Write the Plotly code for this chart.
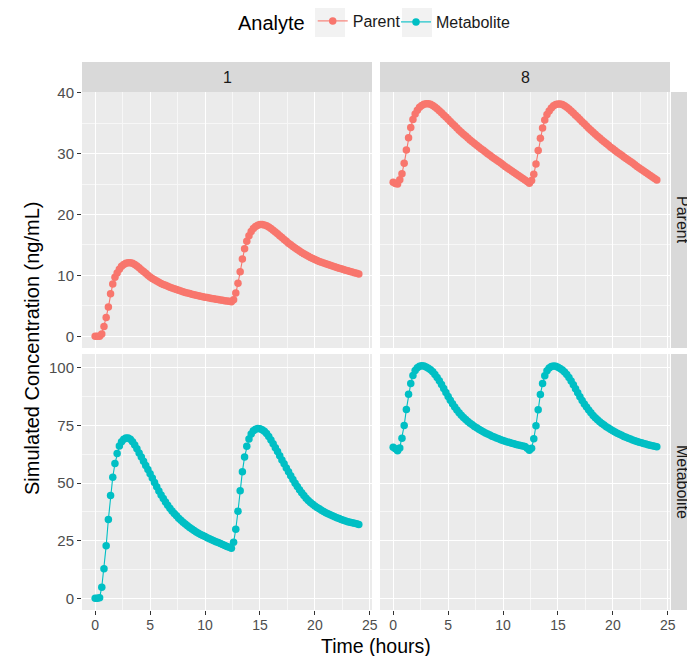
import plotly.graph_objects as go

# ---------------- data ----------------
time_h = [
    0.0, 0.2, 0.4, 0.6, 0.8, 1.0, 1.2, 1.4, 1.6, 1.8,
    2.0, 2.2, 2.4, 2.6, 2.8, 3.0, 3.2, 3.4, 3.6, 3.8,
    4.0, 4.2, 4.4, 4.6, 4.8, 5.0, 5.2, 5.4, 5.6, 5.8,
    6.0, 6.2, 6.4, 6.6, 6.8, 7.0, 7.2, 7.4, 7.6, 7.8,
    8.0, 8.2, 8.4, 8.6, 8.8, 9.0, 9.2, 9.4, 9.6, 9.8,
    10.0, 10.2, 10.4, 10.6, 10.8, 11.0, 11.2, 11.4, 11.6, 11.8,
    12.0, 12.2, 12.4, 12.6, 12.8, 13.0, 13.2, 13.4, 13.6, 13.8,
    14.0, 14.2, 14.4, 14.6, 14.8, 15.0, 15.2, 15.4, 15.6, 15.8,
    16.0, 16.2, 16.4, 16.6, 16.8, 17.0, 17.2, 17.4, 17.6, 17.8,
    18.0, 18.2, 18.4, 18.6, 18.8, 19.0, 19.2, 19.4, 19.6, 19.8,
    20.0, 20.2, 20.4, 20.6, 20.8, 21.0, 21.2, 21.4, 21.6, 21.8,
    22.0, 22.2, 22.4, 22.6, 22.8, 23.0, 23.2, 23.4, 23.6, 23.8,
    24.0,
]

parent_day1 = [
    0, 0, 0, 0.4, 1.6, 3.1, 4.8, 7.0, 8.6, 9.7,
    10.4, 11.0, 11.5, 11.8, 12.0, 12.1, 12.1, 12.0, 11.8, 11.55,
    11.25, 10.95, 10.65, 10.35, 10.05, 9.75, 9.5, 9.28, 9.07, 8.87,
    8.68, 8.52, 8.37, 8.22, 8.08, 7.94, 7.8, 7.68, 7.56, 7.44,
    7.33, 7.22, 7.12, 7.02, 6.92, 6.83, 6.74, 6.66, 6.58, 6.5,
    6.43, 6.36, 6.29, 6.22, 6.16, 6.1, 6.04, 5.98, 5.92, 5.86,
    5.8, 5.75, 5.7, 6.0, 7.1, 8.7, 10.6, 12.7, 14.4, 15.6,
    16.5, 17.2, 17.7, 18.05, 18.25, 18.35, 18.35, 18.28, 18.14, 17.95,
    17.7, 17.42, 17.13, 16.83, 16.52, 16.21, 15.9, 15.6, 15.3, 15.02,
    14.75, 14.49, 14.24, 14.0, 13.77, 13.55, 13.34, 13.14, 12.95, 12.77,
    12.6, 12.45, 12.3, 12.16, 12.03, 11.9, 11.78, 11.66, 11.54, 11.42,
    11.3, 11.19, 11.08, 10.97, 10.86, 10.75, 10.65, 10.55, 10.45, 10.35,
    10.25,
]

parent_day8 = [
    25.3, 25.1, 25.0, 25.7, 26.7, 28.4, 30.6, 32.6, 34.3, 35.6,
    36.5, 37.1, 37.6, 37.9, 38.1, 38.2, 38.2, 38.1, 37.9, 37.65,
    37.35, 37.05, 36.7, 36.35, 36.0, 35.65, 35.28, 34.91, 34.55, 34.2,
    33.85, 33.52, 33.19, 32.87, 32.56, 32.25, 31.95, 31.66, 31.37, 31.08,
    30.8, 30.53, 30.26, 29.99, 29.72, 29.46, 29.2, 28.95, 28.7, 28.45,
    28.15, 27.9, 27.65, 27.4, 27.15, 26.9, 26.65, 26.4, 26.15, 25.9,
    25.65, 25.4, 25.15, 25.6, 26.6, 28.3, 30.5, 32.5, 34.2, 35.5,
    36.4, 37.0, 37.5, 37.85, 38.05, 38.15, 38.15, 38.05, 37.85, 37.6,
    37.3, 37.0, 36.65, 36.3, 35.95, 35.6, 35.24, 34.88, 34.52, 34.17,
    33.83, 33.5, 33.17, 32.85, 32.54, 32.23, 31.93, 31.64, 31.35, 31.06,
    30.78, 30.51, 30.24, 29.97, 29.71, 29.45, 29.19, 28.94, 28.69, 28.44,
    28.15, 27.9, 27.65, 27.4, 27.15, 26.9, 26.65, 26.4, 26.15, 25.9,
    25.65,
]

metabolite_day1 = [
    0, 0, 0.3, 4.85, 12.9, 22.8, 34.2, 44.6, 52.6, 58.5,
    62.9, 66.1, 68.0, 69.1, 69.6, 69.6, 69.1, 68.0, 66.6, 64.9,
    63.1, 61.3, 59.5, 57.7, 55.9, 54.1, 52.2, 50.3, 48.4, 46.6,
    44.9, 43.3, 41.8, 40.4, 39.1, 37.9, 36.8, 35.8, 34.8, 33.9,
    33.05, 32.25, 31.5, 30.75, 30.05, 29.4, 28.8, 28.25, 27.75, 27.27,
    26.8, 26.35, 25.9, 25.47, 25.04, 24.62, 24.2, 23.78, 23.37, 22.96,
    22.55, 22.15, 21.75, 24.3, 30.0, 37.8, 46.7, 55.0, 61.4, 66.0,
    69.2, 71.3, 72.7, 73.4, 73.7, 73.6, 73.2, 72.5, 71.5, 70.2,
    68.7, 67.1, 65.4, 63.7, 61.9, 60.1, 58.4, 56.6, 54.9, 53.2,
    51.6, 50.0, 48.5, 47.1, 45.8, 44.6, 43.5, 42.5, 41.6, 40.8,
    40.1, 39.45, 38.85, 38.27, 37.7, 37.2, 36.75, 36.3, 35.85, 35.42,
    35.0, 34.62, 34.26, 33.92, 33.6, 33.3, 33.05, 32.8, 32.56, 32.33,
    32.1,
]

metabolite_day8 = [
    65.6, 64.9, 64.1, 65.3, 69.5, 75.0, 82.0, 88.6, 93.3, 96.7,
    98.9, 100.1, 100.7, 100.9, 100.8, 100.4, 99.9, 99.2, 98.3, 97.2,
    95.9, 94.4, 92.8, 91.1, 89.3, 87.6, 86.0, 84.5, 83.1, 81.8,
    80.6, 79.5, 78.5, 77.6, 76.8, 76.0, 75.3, 74.6, 74.0, 73.4,
    72.85, 72.3, 71.8, 71.3, 70.85, 70.4, 70.0, 69.6, 69.22, 68.86,
    68.52, 68.2, 67.9, 67.6, 67.32, 67.05, 66.8, 66.55, 66.32, 66.1,
    65.88, 65.2, 64.3, 65.2, 69.3, 74.9, 81.9, 88.5, 93.2, 96.6,
    98.8, 100.0, 100.6, 100.8, 100.7, 100.3, 99.8, 99.1, 98.2, 97.1,
    95.8, 94.3, 92.7, 91.0, 89.2, 87.5, 85.9, 84.4, 83.0, 81.7,
    80.5, 79.4, 78.4, 77.5, 76.7, 75.9, 75.2, 74.5, 73.9, 73.3,
    72.75, 72.2, 71.7, 71.2, 70.75, 70.3, 69.9, 69.5, 69.12, 68.76,
    68.42, 68.1, 67.8, 67.5, 67.22, 66.95, 66.7, 66.45, 66.22, 66.0,
    65.78,
]

day_labels = ["1", "8"]
analyte_labels = ["Parent", "Metabolite"]
x_tick_vals = [0, 5, 10, 15, 20, 25]
y_tick_vals_parent = [0, 10, 20, 30, 40]
y_tick_vals_metabolite = [0, 25, 50, 75, 100]

# ---------------- styling / layout geometry ----------------
# The page body has an 8px default margin, so the figure is 8px smaller
# than the window and every reference (screen) pixel maps to figure px - 8.
OFF = 8
W, H = 695 - OFF, 656 - OFF
ML, MR, MT, MB = 82 - OFF, 25, 62 - OFF, 46
PW, PH = W - ML - MR, H - MT - MB
FONT = "Liberation Sans, Arial, sans-serif"
COLORS = {"Parent": "#F8766D", "Metabolite": "#00BFC4"}


def fx(px):  # screen x -> paper
    return (px - OFF - ML) / PW


def fy(py):  # screen y -> paper
    return (H - MB - (py - OFF)) / PH


col_px = [(82, 372), (380, 670)]
row_px = [(92, 348), (354, 610)]
strip_top = (62, 92)
strip_right = (671, 700)

series = {
    ("Parent", 0): parent_day1,
    ("Parent", 1): parent_day8,
    ("Metabolite", 0): metabolite_day1,
    ("Metabolite", 1): metabolite_day8,
}
y_ranges = [[-1.91, 40.11], [-5.05, 106.05]]
y_ticks = [y_tick_vals_parent, y_tick_vals_metabolite]
legend_ids = {"Parent": "legend", "Metabolite": "legend2"}

fig = go.Figure()
layout_axes = {}
for r, analyte in enumerate(analyte_labels):
    for c in range(2):
        idx = r * 2 + c + 1
        sfx = "" if idx == 1 else str(idx)
        fig.add_trace(go.Scatter(
            x=time_h, y=series[(analyte, c)],
            mode="lines+markers",
            name=analyte, legendgroup=analyte,
            legend=legend_ids[analyte],
            showlegend=(c == 0),
            line=dict(color=COLORS[analyte], width=1.1),
            marker=dict(color=COLORS[analyte], size=7.5),
            xaxis="x" + sfx, yaxis="y" + sfx,
        ))
        bottom = (r == 1)
        left = (c == 0)
        layout_axes["xaxis" + sfx] = dict(
            domain=[fx(col_px[c][0]), fx(col_px[c][1])],
            range=[-1.2, 25.2], anchor="y" + sfx,
            tickvals=x_tick_vals, showticklabels=bottom,
            ticks="outside" if bottom else "", ticklen=4, tickwidth=1.1,
            tickcolor="#333333", ticklabelstandoff=-2,
            tickfont=dict(family=FONT, size=14, color="#4D4D4D"),
            showgrid=True, gridcolor="white", gridwidth=1.1,
            minor=dict(dtick=2.5, tick0=0, showgrid=True, gridcolor="#F7F7F7", gridwidth=0.6),
            zeroline=False, showline=False, fixedrange=True,
        )
        layout_axes["yaxis" + sfx] = dict(
            domain=[fy(row_px[r][1]), fy(row_px[r][0])],
            range=y_ranges[r], anchor="x" + sfx,
            tickvals=y_ticks[r], showticklabels=left,
            ticks="outside" if left else "", ticklen=4, tickwidth=1.1,
            tickcolor="#333333",
            tickfont=dict(family=FONT, size=15, color="#4D4D4D"),
            showgrid=True, gridcolor="white", gridwidth=1.1,
            minor=dict(dtick=(y_ticks[r][1] - y_ticks[r][0]) / 2, tick0=0,
                       showgrid=True, gridcolor="#F7F7F7", gridwidth=0.6),
            zeroline=False, showline=False, fixedrange=True,
        )

shapes = []
annotations = []
for c, lab in enumerate(day_labels):
    shapes.append(dict(type="rect", xref="paper", yref="paper",
                       x0=fx(col_px[c][0]), x1=fx(col_px[c][1]),
                       y0=fy(strip_top[1]), y1=fy(strip_top[0]),
                       fillcolor="#D9D9D9", line=dict(width=0), layer="below"))
    annotations.append(dict(text=lab, xref="paper", yref="paper",
                            x=fx((col_px[c][0] + col_px[c][1]) / 2),
                            y=fy((strip_top[0] + strip_top[1]) / 2),
                            showarrow=False, xanchor="center", yanchor="middle",
                            font=dict(family=FONT, size=16, color="#1A1A1A")))
for r, lab in enumerate(analyte_labels):
    shapes.append(dict(type="rect", xref="paper", yref="paper",
                       x0=fx(strip_right[0]), x1=fx(strip_right[1]),
                       y0=fy(row_px[r][1]), y1=fy(row_px[r][0]),
                       fillcolor="#D9D9D9", line=dict(width=0), layer="below"))
    annotations.append(dict(text=lab, xref="paper", yref="paper",
                            x=fx(683), y=fy((row_px[r][0] + row_px[r][1]) / 2),
                            textangle=90, showarrow=False,
                            xanchor="center", yanchor="middle",
                            font=dict(family=FONT, size=16, color="#1A1A1A")))

# legend key backgrounds
for kx in (315, 402):
    shapes.append(dict(type="rect", xref="paper", yref="paper",
                       x0=fx(kx), x1=fx(kx + 30), y0=fy(37), y1=fy(8),
                       fillcolor="#F2F2F2", line=dict(width=0), layer="below"))

annotations.append(dict(text="Time (hours)", xref="paper", yref="paper",
                        x=fx(376), y=fy(645.5), showarrow=False, borderpad=0,
                        xanchor="center", yanchor="middle",
                        font=dict(family=FONT, size=19.5, color="#000000")))
annotations.append(dict(text="Simulated Concentration (ng/mL)", xref="paper", yref="paper",
                        x=fx(32), y=fy(349), textangle=-90, showarrow=False,
                        xanchor="center", yanchor="middle",
                        font=dict(family=FONT, size=20, color="#000000")))

legend_common = dict(orientation="h", xref="container", yref="container",
                     y=1 - (22 - OFF) / H, xanchor="left", yanchor="middle",
                     font=dict(family=FONT, size=16, color="#1A1A1A"),
                     bgcolor="rgba(0,0,0,0)", itemwidth=30)

fig.update_layout(
    width=W, height=H,
    margin=dict(l=ML, r=MR, t=MT, b=MB),
    paper_bgcolor="white", plot_bgcolor="#EBEBEB",
    font=dict(family=FONT),
    shapes=shapes, annotations=annotations,
    showlegend=True,
    legend=dict(x=(236 - OFF) / W,
                title=dict(text="Analyte", side="left",
                           font=dict(family=FONT, size=20, color="#000000")),
                **legend_common),
    legend2=dict(x=(396 - OFF) / W, **legend_common),
    **layout_axes,
)

fig.write_html("out.html")
